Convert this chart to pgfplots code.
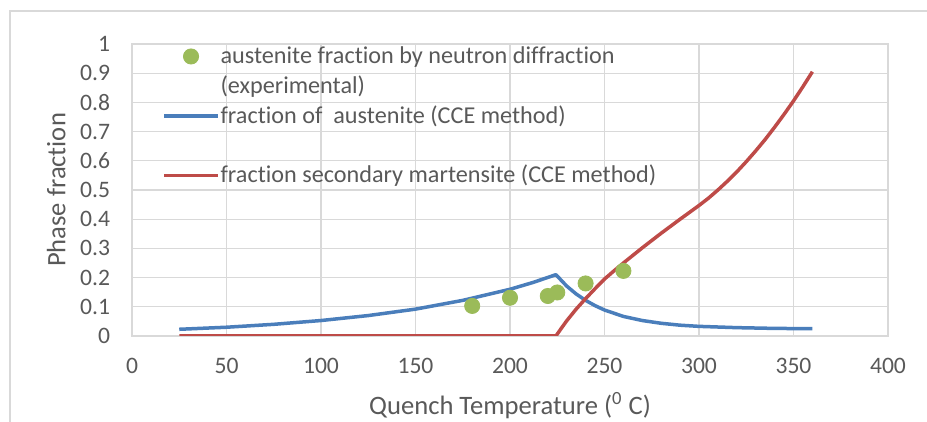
\documentclass[border=0pt]{standalone}
\usepackage{pgfplots}
\pgfplotsset{compat=1.18}
\usepackage{fontspec}
\setmainfont[Ligatures=NoCommon]{Carlito}

\definecolor{gridgray}{HTML}{D9D9D9}
\definecolor{labelgray}{HTML}{595959}
\definecolor{austblue}{HTML}{4A7EBB}
\definecolor{martred}{HTML}{BE4B48}
\definecolor{expgreen}{HTML}{9BBB59}

\begin{document}
\fontsize{11.8bp}{15bp}\selectfont
\begin{tikzpicture}
\begin{axis}[
  at={(0,0)}, anchor=south west,
  scale only axis, width=378bp, height=146bp,
  xmin=0, xmax=400, ymin=0, ymax=1,
  xtick={0,50,100,150,200,250,300,350,400},
  ytick={0,0.1,0.2,0.3,0.4,0.5,0.6,0.7,0.8,0.9,1},
  grid=major,
  major grid style={draw=gridgray, line width=0.65bp},
  axis line style={draw=gridgray, line width=0.65bp},
  major tick length=0pt,
  /pgf/number format/assume math mode=true,
  tick label style={text=labelgray, inner sep=0pt},
  yticklabel style={anchor=east, xshift=-10.8bp},
  xticklabel style={anchor=base, yshift=-18.5bp},
  xlabel={Quench Temperature (\textsuperscript{0} C)},
  ylabel={Phase fraction},
  every axis x label/.style={at={(axis description cs:0.5,-0.2705)}, anchor=base,
    text=labelgray, inner sep=0pt, font=\fontsize{13.3bp}{16bp}\selectfont},
  every axis y label/.style={at={(axis description cs:-0.0881,0.5)}, anchor=base, rotate=90,
    text=labelgray, inner sep=0pt, font=\fontsize{13.3bp}{16bp}\selectfont},
  legend style={at={(axis description cs:0.0406,0.9977)}, anchor=north west,
    draw=none, fill=none, inner sep=0pt, outer sep=0pt,
    row sep=0pt, column sep=0.6bp, text=labelgray,
    font=\fontsize{12.1bp}{15bp}\selectfont,
    nodes={inner sep=0pt, text height=9.5bp, text depth=5.4bp, anchor=base west}},
  legend cell align=left,
  legend image code/.code={\draw[mark repeat=2,mark phase=2,#1] plot coordinates {(0bp,3.6bp) (13.3bp,3.6bp) (26.6bp,3.6bp)};},
]
% measured austenite fraction (neutron diffraction)
\addplot[only marks, mark=*, mark size=3.8bp, mark options={fill=expgreen, draw=expgreen}] coordinates {
  (180,0.103) (200,0.131) (220,0.137) (225,0.149) (240,0.180) (260,0.223)
};
\addlegendentry{austenite fraction by neutron diffraction}
\addlegendimage{empty legend}
\addlegendentry{(experimental)}

% austenite fraction, CCE model
\addplot[austblue, line width=1.75bp, line join=round] coordinates {
  (25,0.023) (50,0.030) (75,0.040) (100,0.053) (125,0.070) (150,0.092)
  (175,0.122) (200,0.160) (212,0.183) (224.3,0.210)
  (230,0.171) (235,0.144) (240,0.122) (245,0.104) (250,0.089) (260,0.067)
  (270,0.053) (280,0.0435) (290,0.037) (300,0.033) (320,0.0286) (340,0.026) (360,0.025)
};
\addlegendentry{fraction of\ \ austenite (CCE method)}
\addlegendimage{empty legend}
\addlegendentry{\phantom{x}}

% secondary martensite fraction, CCE model
\addplot[martred, line width=1.75bp, line join=round] coordinates {
  (25,0) (224.3,0) (227,0.025) (230,0.052) (235,0.092) (240,0.128) (245,0.162)
  (250,0.195) (255,0.223) (260,0.250) (265,0.276) (270,0.302) (275,0.327)
  (280,0.352) (285,0.376) (290,0.400) (295,0.4235) (300,0.447) (305,0.472)
  (310,0.500) (315,0.530) (320,0.562) (325,0.597) (330,0.634) (335,0.673)
  (340,0.715) (345,0.759) (350,0.805) (355,0.854) (360,0.905)
};
\addlegendentry{fraction secondary martensite (CCE method)}
\end{axis}
\pgfresetboundingbox
\useasboundingbox (-66bp,-43bp) rectangle (397.5bp,168bp);
\draw[gridgray, line width=0.65bp] (-61bp,-44bp) -- (-61bp,162.5bp) -- (398bp,162.5bp);
\end{tikzpicture}
\end{document}
